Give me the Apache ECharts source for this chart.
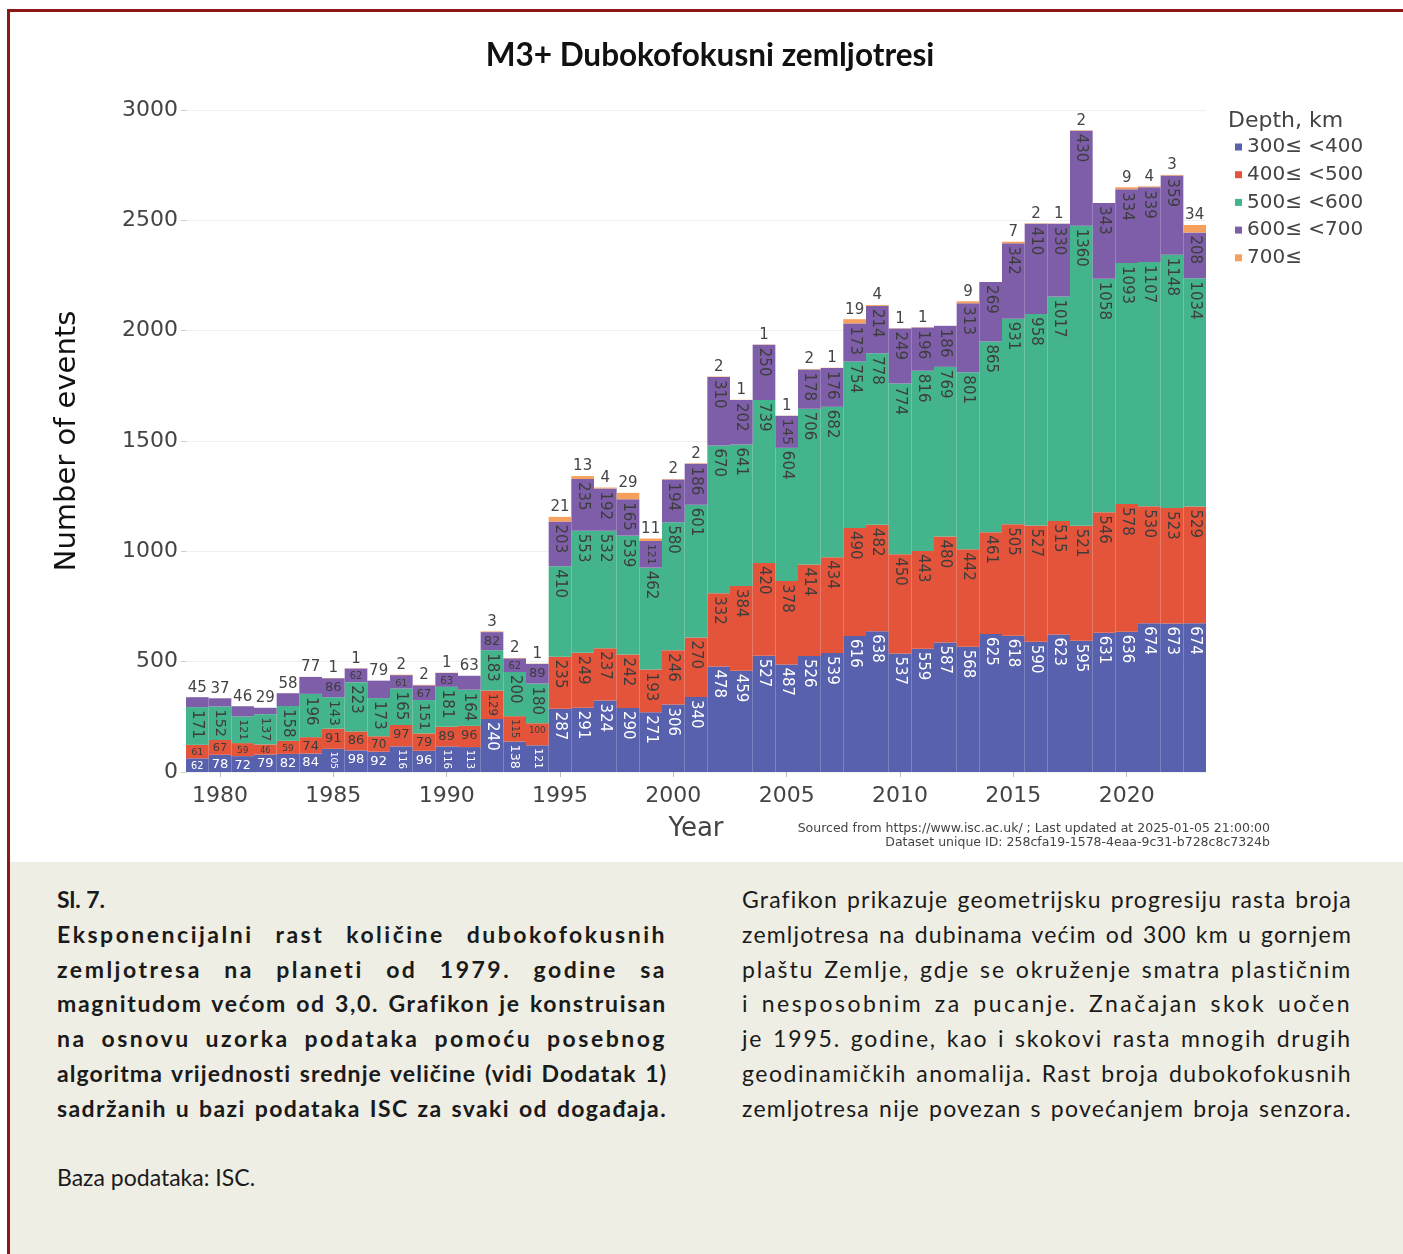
<!DOCTYPE html>
<html>
<head>
<meta charset="utf-8">
<script src="https://cdn.jsdelivr.net/npm/echarts@6/dist/echarts.min.js"></script>
<style>
  html, body { margin:0; padding:0; background:#fff; }
  body { width:1403px; height:1254px; position:relative; overflow:hidden; }
  #chart { position:absolute; left:0; top:0; width:1403px; height:862px; }
  #caption { position:absolute; left:10px; top:862px; width:1393px; height:392px; background:#efeee5; font-family:'Lato','Noto Sans',sans-serif; color:#1a1a1a; font-size:23px; }
  .col { position:absolute; top:20px; }
  .ln { height:34.8px; line-height:34.8px; white-space:nowrap; text-align:justify; text-align-last:justify; }
  .b { font-weight:700; }
  #frame { position:absolute; left:7px; top:9px; width:1400px; height:1260px; border-top:3px solid #8e1616; border-left:3px solid #8e1616; pointer-events:none; }
</style>
</head>
<body>
<div id="chart"></div>
<div id="caption">
  <div class="col" style="left:47px;width:610px;">
    <div class="ln b nofit" style="text-align-last:left;">Sl. 7.</div>
    <div class="ln b">Eksponencijalni rast količine dubokofokusnih</div>
    <div class="ln b">zemljotresa na planeti od 1979. godine sa</div>
    <div class="ln b">magnitudom većom od 3,0. Grafikon je konstruisan</div>
    <div class="ln b">na osnovu uzorka podataka pomoću posebnog</div>
    <div class="ln b">algoritma vrijednosti srednje veličine (vidi Dodatak 1)</div>
    <div class="ln b">sadržanih u bazi podataka ISC za svaki od događaja.</div>
    <div class="ln nofit"></div>
    <div class="ln nofit" style="text-align-last:left;">Baza podataka: ISC.</div>
  </div>
  <div class="col" style="left:732px;width:610px;">
    <div class="ln">Grafikon prikazuje geometrijsku progresiju rasta broja</div>
    <div class="ln">zemljotresa na dubinama većim od 300 km u gornjem</div>
    <div class="ln">plaštu Zemlje, gdje se okruženje smatra plastičnim</div>
    <div class="ln">i nesposobnim za pucanje. Značajan skok uočen</div>
    <div class="ln">je 1995. godine, kao i skokovi rasta mnogih drugih</div>
    <div class="ln">geodinamičkih anomalija. Rast broja dubokofokusnih</div>
    <div class="ln">zemljotresa nije povezan s povećanjem broja senzora.</div>
  </div>
</div>
<div id="frame"></div>
<script>
const years = ['1979','1980','1981','1982','1983','1984','1985','1986','1987','1988','1989','1990','1991','1992','1993','1994','1995','1996','1997','1998','1999','2000','2001','2002','2003','2004','2005','2006','2007','2008','2009','2010','2011','2012','2013','2014','2015','2016','2017','2018','2019','2020','2021','2022','2023'];
const d300 = [62,78,72,79,82,84,105,98,92,116,96,116,113,240,138,121,287,291,324,290,271,306,340,478,459,527,487,526,539,616,638,537,559,587,568,625,618,590,623,595,631,636,674,673,674];
const d400 = [61,67,59,46,59,74,91,86,70,97,79,89,96,129,115,100,235,249,237,242,193,246,270,332,384,420,378,414,434,490,482,450,443,480,442,461,505,527,515,521,546,578,530,523,529];
const d500 = [171,152,121,137,158,196,143,223,173,165,151,181,164,183,200,180,410,553,532,539,462,580,601,670,641,739,604,706,682,754,778,774,816,769,801,865,931,958,1017,1360,1058,1093,1107,1148,1034];
const d600 = [45,37,46,29,58,77,86,62,79,61,67,63,63,82,62,89,203,235,192,165,121,194,186,310,202,250,145,178,176,173,214,249,196,186,313,269,342,410,330,430,343,334,339,359,208];
const d700 = [null,null,null,null,null,null,1,1,null,2,2,1,null,3,2,1,21,13,4,29,11,2,2,2,1,1,1,2,1,19,4,1,1,null,9,null,7,2,1,2,null,9,4,3,34];
const seriesNames = ['300≤ <400','400≤ <500','500≤ <600','600≤ <700','700≤'];
const yTicks = [0,500,1000,1500,2000,2500,3000];

// caption line fitting (letter spacing so justified lines look like the original typesetting)
document.querySelectorAll('#caption .ln:not(.nofit)').forEach(el => {
  const s = document.createElement('span');
  s.style.cssText = 'display:inline-block;white-space:nowrap;';
  s.textContent = el.textContent;
  el.parentNode.appendChild(s);
  s.style.fontWeight = getComputedStyle(el).fontWeight;
  const w0 = s.getBoundingClientRect().width;
  s.remove();
  const txt = el.textContent;
  const n = txt.length;
  const spaces = (txt.match(/ /g) || []).length;
  let ls = (610 - w0 - spaces * 2) / n;
  ls = Math.max(0, Math.min(2.5, ls));
  el.style.letterSpacing = ls + 'px';
});

const colors = ['#5761ad','#e4543a','#44b48c','#7e5ea8','#f5a05c'];
const insideText = ['#ffffff','#3d3d3d','#3d3d3d','#3d3d3d','#3d3d3d'];
const FONT = "'DejaVu Sans', Verdana, sans-serif";

// layout
const G = {left:186, right:197, top:110, bottom:90};
const plotW = 1403 - G.left - G.right;
const plotH = 862 - G.top - G.bottom;
const yMax = yTicks[yTicks.length - 1];
const k = plotH / yMax;
const bw = plotW / years.length;

const all = [d300, d400, d500, d600, d700];

function isTopSeg(si, i) {
  for (let j = si + 1; j < all.length; j++) if (all[j][i] != null) return false;
  return true;
}

function mkLabel(v, si, i) {
  const fs = 15, pad = 3;
  const n = String(v).length;
  const w = n * 0.636 * fs;
  const th = 0.78 * fs;
  const h = v * k;
  const sH = Math.min(1, (bw - 2 * pad) / w, (h - 2 * pad) / th);
  const sR = Math.min(1, (h - 2 * pad) / w, (bw - 2 * pad) / th);
  const s = Math.max(sH, sR);
  if (isTopSeg(si, i) && s < 1) {
    return {position:'top', distance:2, fontSize:fs, color:'#444', rotate:0};
  }
  if (sH >= sR) {
    return {position:'insideTop', distance:pad, fontSize:Math.max(8, fs * sH), color:insideText[si], rotate:0};
  }
  return {position:'insideTop', distance:pad, rotate:-90, align:'left', verticalAlign:'middle',
          fontSize:Math.max(8, fs * sR), color:insideText[si]};
}

const series = all.map((arr, si) => ({
  name: seriesNames[si],
  type: 'bar',
  stack: 'depth',
  barCategoryGap: '0%',
  itemStyle: {color: colors[si]},
  label: {show:true, fontFamily:FONT},
  emphasis: {disabled:true},
  data: arr.map((v, i) => v == null ? null : {value: v, label: mkLabel(v, si, i)})
}));

const chart = echarts.init(document.getElementById('chart'));
chart.setOption({
  animation: false,
  color: colors,
  title: {
    text: 'M3+ Dubokofokusni zemljotresi',
    left: 705, top: 35, textAlign: 'center',
    textStyle: {fontFamily:"'Lato', sans-serif", fontWeight:'bold', fontSize:31.5, color:'#111'}
  },
  grid: G,
  legend: {
    orient:'vertical', left:1230, top:132, itemWidth:7, itemHeight:7, itemGap:7.7,
    icon:'rect', data: seriesNames,
    textStyle:{fontFamily:FONT, fontSize:20, color:'#444'}
  },
  xAxis: {
    type:'category', data: years,
    name:'Year', nameLocation:'middle', nameGap:44,
    nameTextStyle:{fontFamily:FONT, fontSize:26, color:'#444'},
    axisLine:{show:false},
    axisTick:{show:true, alignWithLabel:true, length:5, lineStyle:{color:'#bbb'}, interval:(idx, val) => Number(val) % 5 === 0},
    axisLabel:{interval:(idx, val) => Number(val) % 5 === 0, fontFamily:FONT, fontSize:22, color:'#444', margin:13}
  },
  yAxis: {
    type:'value', min:yTicks[0], max:yMax, interval:yTicks[1]-yTicks[0],
    name:'Number of events', nameLocation:'middle', nameGap:104, nameRotate:90,
    nameTextStyle:{fontFamily:FONT, fontSize:29, color:'#111'},
    axisLine:{show:false},
    axisTick:{show:true, length:5, lineStyle:{color:'#ccc'}},
    axisLabel:{fontFamily:FONT, fontSize:22, color:'#444', margin:8, formatter: v => String(v)},
    splitLine:{lineStyle:{color:'#efefef'}}
  },
  graphic: [
    {type:'text', left:1228, top:110, style:{text:'Depth, km', font:"22px 'DejaVu Sans'", fill:'#444'}},
    {type:'text', right:133, top:822, style:{text:'Sourced from https://www.isc.ac.uk/ ; Last updated at 2025-01-05 21:00:00', font:"12.5px 'DejaVu Sans'", fill:'#444'}},
    {type:'text', right:133, top:836, style:{text:'Dataset unique ID: 258cfa19-1578-4eaa-9c31-b728c8c7324b', font:"12.5px 'DejaVu Sans'", fill:'#444'}}
  ],
  series: series
});
</script>
</body>
</html>
